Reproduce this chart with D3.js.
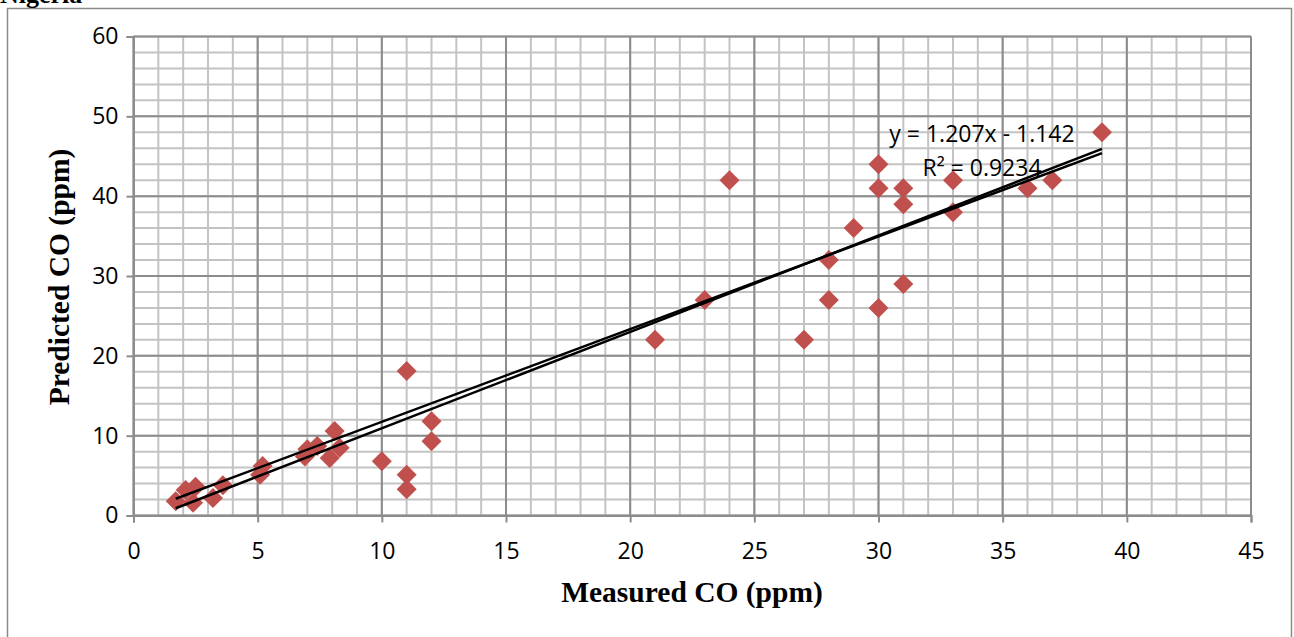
<!DOCTYPE html>
<html>
<head>
  <meta charset="utf-8">
  <title>Measured vs Predicted CO</title>
  <script src="https://cdn.jsdelivr.net/npm/d3@7"></script>
  <style>
    html, body { margin: 0; padding: 0; background: #fff; overflow: hidden; }
    svg { display: block; }
  </style>
</head>
<body>
  <div id="chart"></div>
  <script>
    // measured CO (x) and predicted CO (y)
    var measured = [1.7, 2.1, 2.5, 2.4, 3.2, 3.6, 5.2, 5.1, 6.9, 7.0, 7.4, 8.1, 7.9, 8.3,
      10, 11, 11, 11, 12, 12, 21, 23, 24, 27, 28, 28, 29, 30, 30, 30, 31, 31, 31, 33, 33, 36, 37, 39];
    var predicted = [1.8, 3.2, 3.6, 1.6, 2.2, 3.8, 6.2, 5.1, 7.4, 8.3, 8.7, 10.6, 7.2, 8.5,
      6.8, 18.1, 5.1, 3.3, 11.8, 9.3, 22, 27, 42, 22, 32, 27, 36, 44, 41, 26, 41, 39, 29, 42, 38, 41, 42, 48];

    // linear trendline shown in the label
    var trendSlope = 1.207;
    var trendIntercept = -1.142;
    var trendRange = [1.7, 39];
    // second, nearly parallel fit line (end points)
    var fit2X = [1.7, 39];
    var fit2Y = [2.1, 45.4];

    var xTicks = [0, 5, 10, 15, 20, 25, 30, 35, 40, 45];
    var yTicks = [0, 10, 20, 30, 40, 50, 60];

    var width = 1294, height = 637;
    var svg = d3.select('#chart').append('svg')
      .attr('width', width).attr('height', height);

    // outer chart border
    svg.append('rect')
      .attr('x', 7.5).attr('y', 8.5).attr('width', 1284).attr('height', 640)
      .attr('fill', 'none').attr('stroke', '#8a8a8a').attr('stroke-width', 1.5);

    // caption line from the page above, cut off at the top edge as in the source
    svg.append('text')
      .attr('x', 0).attr('y', 3)
      .style('font-family', '"Liberation Serif", serif')
      .style('font-weight', 'bold').style('font-size', '26px')
      .text('Nigeria');

    var x = d3.scaleLinear().domain([0, 45]).range([133.5, 1251]);
    var y = d3.scaleLinear().domain([0, 60]).range([515.5, 36.5]);

    var grid = svg.append('g');
    // minor grid
    grid.selectAll('.vminor').data(d3.range(0, 46, 1)).enter().append('line')
      .attr('x1', function (d) { return x(d); }).attr('x2', function (d) { return x(d); })
      .attr('y1', y(0)).attr('y2', y(60))
      .attr('stroke', '#c3c3c3').attr('stroke-width', 2);
    grid.selectAll('.hminor').data(d3.range(0, 61, 2)).enter().append('line')
      .attr('y1', function (d) { return y(d); }).attr('y2', function (d) { return y(d); })
      .attr('x1', x(0)).attr('x2', x(45))
      .attr('stroke', '#c3c3c3').attr('stroke-width', 2);
    // major grid
    grid.selectAll('.vmajor').data(xTicks).enter().append('line')
      .attr('x1', function (d) { return x(d); }).attr('x2', function (d) { return x(d); })
      .attr('y1', y(0)).attr('y2', y(60))
      .attr('stroke', '#8c8c8c').attr('stroke-width', 2);
    grid.selectAll('.hmajor').data(yTicks).enter().append('line')
      .attr('y1', function (d) { return y(d); }).attr('y2', function (d) { return y(d); })
      .attr('x1', x(0)).attr('x2', x(45))
      .attr('stroke', '#8c8c8c').attr('stroke-width', 2);

    var tickFont = '"Open Sans", sans-serif';

    var xAxis = svg.append('g')
      .attr('transform', 'translate(0,' + y(0) + ')')
      .call(d3.axisBottom(x).tickValues(xTicks).tickSize(7).tickPadding(20).tickFormat(d3.format('d')));
    var yAxis = svg.append('g')
      .attr('transform', 'translate(' + x(0) + ',0)')
      .call(d3.axisLeft(y).tickValues(yTicks).tickSize(7).tickPadding(8).tickFormat(d3.format('d')));
    [xAxis, yAxis].forEach(function (a) {
      a.select('.domain').attr('stroke', '#8c8c8c').attr('stroke-width', 2);
      a.selectAll('.tick line').attr('stroke', '#8c8c8c').attr('stroke-width', 2);
      a.selectAll('.tick text')
        .style('font-family', tickFont).style('font-size', '23px').attr('fill', '#000');
    });

    // points
    var pts = measured.map(function (m, i) { return [m, predicted[i]]; });
    svg.append('g').selectAll('path').data(pts).enter().append('path')
      .attr('d', d3.symbol().type(d3.symbolSquare).size(200))
      .attr('transform', function (d) {
        return 'translate(' + x(d[0]) + ',' + y(d[1]) + ') rotate(45)';
      })
      .attr('fill', '#c0504d');

    // trend lines
    svg.append('line')
      .attr('x1', x(fit2X[0])).attr('y1', y(fit2Y[0]))
      .attr('x2', x(fit2X[1])).attr('y2', y(fit2Y[1]))
      .attr('stroke', '#000').attr('stroke-width', 2.5);
    svg.append('line')
      .attr('x1', x(trendRange[0])).attr('y1', y(trendSlope * trendRange[0] + trendIntercept))
      .attr('x2', x(trendRange[1])).attr('y2', y(trendSlope * trendRange[1] + trendIntercept))
      .attr('stroke', '#000').attr('stroke-width', 2.5);

    // trendline label
    var label = svg.append('g')
      .style('font-family', tickFont).style('font-size', '23px');
    label.append('text').attr('x', 982).attr('y', 142).attr('text-anchor', 'middle')
      .text('y = 1.207x - 1.142');
    label.append('text').attr('x', 982).attr('y', 176).attr('text-anchor', 'middle')
      .text('R\u00b2 = 0.9234');

    // axis titles
    var titleFont = '"Liberation Serif", serif';
    svg.append('text')
      .attr('x', 692).attr('y', 602).attr('text-anchor', 'middle')
      .style('font-family', titleFont)
      .style('font-weight', 'bold').style('font-size', '29.5px')
      .text('Measured CO (ppm)');
    svg.append('text')
      .attr('transform', 'translate(69,277) rotate(-90)')
      .attr('text-anchor', 'middle')
      .style('font-family', titleFont)
      .style('font-weight', 'bold').style('font-size', '29.5px')
      .text('Predicted CO (ppm)');
  </script>
</body>
</html>
